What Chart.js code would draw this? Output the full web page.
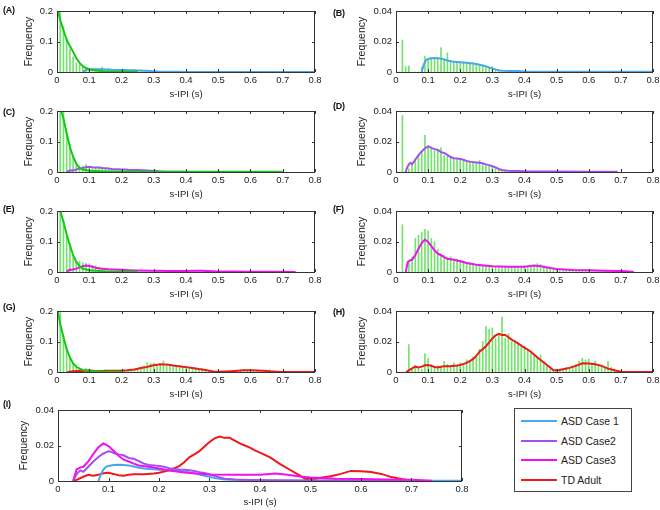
<!DOCTYPE html>
<html>
<head>
<meta charset="utf-8">
<script src="https://cdn.jsdelivr.net/npm/chart.js@4.4.0/dist/chart.umd.min.js"></script>
<style>
  body { margin: 0; width: 660px; height: 510px; overflow: hidden; background: #fff; position: relative;
         font-family: "Liberation Sans", Arial, sans-serif; color: #222; }
  canvas { position: absolute; }
  .tag { position: absolute; font: bold 9px "Liberation Sans", Arial, sans-serif; color: #111; letter-spacing: -0.3px; }
  #legend { position: absolute; left: 514px; top: 408px; width: 116px; height: 82px; border: 1px solid #444; font-size: 10.5px; }
  #legend .row { position: absolute; left: 0; height: 12px; }
  #legend .sw { position: absolute; left: 6px; top: 5px; width: 36px; height: 2px; }
  #legend .lb { position: absolute; left: 46px; top: 0; white-space: nowrap; line-height: 12px; }
</style>
</head>
<body>
<div id="legend"></div>
<script>
// s-IPI histogram bins (s), 0.01 wide
const bins = Array.from({length: 72}, (_, i) => +((i + 1) * 0.01).toFixed(2));

const xTicks = [0, 0.1, 0.2, 0.3, 0.4, 0.5, 0.6, 0.7, 0.8];
const xTickLabels = ['0', '0.1', '0.2', '0.3', '0.4', '0.5', '0.6', '0.7', '0.8'];
const bigTicks = [0, 0.1, 0.2];
const bigTickLabels = ['0', '0.1', '0.2'];
const smallTicks = [0, 0.02, 0.04];
const smallTickLabels = ['0', '0.02', '0.04'];

const seriesNames = ['ASD Case 1', 'ASD Case2', 'ASD Case3', 'TD Adult'];
const seriesColors = ['#4aa6ee', '#a64ff0', '#f010f0', '#f01818'];

// smoothed s-IPI distributions
const case1X = [0.08, 0.085, 0.09, 0.095, 0.1, 0.11, 0.12, 0.13, 0.14, 0.15, 0.16, 0.17, 0.18, 0.19, 0.2, 0.21, 0.22, 0.23, 0.24, 0.25, 0.26, 0.27, 0.28, 0.29, 0.3, 0.31, 0.32, 0.33, 0.35, 0.38, 0.4, 0.42, 0.45, 0.5, 0.6, 0.7, 0.8];
const case1Y = [0, 0.004, 0.0065, 0.008, 0.0085, 0.009, 0.0092, 0.009, 0.0088, 0.0082, 0.0075, 0.007, 0.0068, 0.0066, 0.0064, 0.0062, 0.006, 0.0058, 0.0056, 0.0053, 0.0048, 0.0043, 0.0037, 0.003, 0.0024, 0.0017, 0.0012, 0.0009, 0.0007, 0.0006, 0.0004, 0.0002, 0.0001, 0.0001, 0.0001, 0.0001, 0.0001];

const case2X = [0.03, 0.035, 0.04, 0.045, 0.05, 0.055, 0.06, 0.07, 0.08, 0.09, 0.1, 0.105, 0.11, 0.12, 0.13, 0.14, 0.15, 0.16, 0.17, 0.18, 0.19, 0.2, 0.21, 0.22, 0.23, 0.24, 0.25, 0.26, 0.27, 0.28, 0.29, 0.3, 0.31, 0.32, 0.33, 0.35, 0.38, 0.42, 0.5, 0.6, 0.69];
const case2Y = [0, 0.003, 0.005, 0.006, 0.0052, 0.0065, 0.008, 0.011, 0.0135, 0.0155, 0.0168, 0.0165, 0.0158, 0.015, 0.0145, 0.013, 0.0125, 0.0112, 0.0098, 0.009, 0.0088, 0.0085, 0.008, 0.0072, 0.0068, 0.0065, 0.0063, 0.006, 0.0057, 0.005, 0.0045, 0.0038, 0.003, 0.002, 0.0013, 0.0008, 0.0006, 0.0004, 0.0003, 0.0002, 0.0001];

const case3X = [0.03, 0.037, 0.045, 0.05, 0.06, 0.07, 0.08, 0.09, 0.1, 0.11, 0.12, 0.13, 0.14, 0.15, 0.16, 0.18, 0.2, 0.22, 0.25, 0.3, 0.35, 0.4, 0.43, 0.45, 0.48, 0.5, 0.55, 0.6, 0.65, 0.7, 0.74];
const case3Y = [0, 0.0066, 0.0077, 0.008, 0.011, 0.0153, 0.019, 0.0212, 0.0197, 0.017, 0.0142, 0.012, 0.011, 0.0098, 0.0087, 0.008, 0.007, 0.0059, 0.0048, 0.0037, 0.0035, 0.0035, 0.0042, 0.0037, 0.0026, 0.002, 0.0013, 0.0011, 0.0009, 0.0007, 0.0002];

const tdX = [0.032, 0.04, 0.05, 0.06, 0.07, 0.08, 0.09, 0.1, 0.11, 0.12, 0.13, 0.14, 0.15, 0.17, 0.19, 0.2, 0.22, 0.24, 0.25, 0.26, 0.27, 0.28, 0.29, 0.3, 0.31, 0.32, 0.33, 0.34, 0.35, 0.36, 0.37, 0.38, 0.39, 0.4, 0.42, 0.44, 0.46, 0.48, 0.49, 0.5, 0.51, 0.52, 0.54, 0.56, 0.58, 0.6, 0.62, 0.64, 0.66, 0.68, 0.7, 0.72, 0.8];
const tdY = [0, 0.0011, 0.0024, 0.0035, 0.003, 0.0035, 0.0044, 0.0046, 0.004, 0.0033, 0.003, 0.0035, 0.0038, 0.0038, 0.0042, 0.0046, 0.006, 0.0084, 0.0106, 0.0133, 0.015, 0.0168, 0.0194, 0.022, 0.024, 0.025, 0.0243, 0.0243, 0.0228, 0.0212, 0.02, 0.0188, 0.0172, 0.016, 0.0133, 0.0095, 0.0062, 0.0029, 0.0011, 0.0011, 0.0013, 0.0018, 0.0027, 0.004, 0.0057, 0.0055, 0.0051, 0.004, 0.0022, 0.0011, 0.0002, 0, 0];

// green fitted curves of the short-interval component (left panels)
const greenAX = [0.003, 0.01, 0.02, 0.03, 0.04, 0.05, 0.06, 0.07, 0.08, 0.09, 0.1, 0.12, 0.15, 0.2, 0.25];
const greenAY = [0.2, 0.17, 0.137, 0.106, 0.085, 0.066, 0.045, 0.03, 0.019, 0.013, 0.009, 0.005, 0.002, 0.001, 0.0005];
const greenCX = [0.013, 0.02, 0.03, 0.04, 0.05, 0.06, 0.07, 0.08, 0.1, 0.15, 0.2, 0.3, 0.5, 0.7];
const greenCY = [0.2, 0.176, 0.126, 0.082, 0.05, 0.027, 0.013, 0.008, 0.004, 0.002, 0.001, 0.0008, 0.0008, 0.0005];
const greenEX = [0.01, 0.02, 0.03, 0.04, 0.05, 0.06, 0.07, 0.08, 0.1, 0.15, 0.2, 0.25];
const greenEY = [0.2, 0.165, 0.123, 0.088, 0.055, 0.033, 0.019, 0.011, 0.0055, 0.002, 0.001, 0.0005];
const greenGX = [0.002, 0.01, 0.02, 0.03, 0.04, 0.05, 0.06, 0.07, 0.08, 0.1, 0.15, 0.2];
const greenGY = [0.2, 0.158, 0.114, 0.075, 0.0475, 0.028, 0.017, 0.011, 0.0066, 0.003, 0.001, 0.0005];

// histogram bars, first bin = 0.01
const barsB = [0, 0.021, 0.0035, 0.004, 0, 0, 0, 0.003, 0.0105, 0.008, 0.0095, 0.009, 0.0095, 0.016, 0.008, 0.0125, 0.0075, 0.007, 0.0065, 0.0065, 0.006, 0.0065, 0.006, 0.006, 0.0055, 0.005, 0.0045, 0.004, 0.003, 0.0035, 0.0015, 0.001, 0.0007, 0.0005, 0.0005, 0.0004, 0.0003, 0.0003, 0.0002, 0.0002, 0.0002, 0.0002];
const barsD = [0, 0.037, 0, 0.002, 0.005, 0.0085, 0.011, 0.013, 0.024, 0.017, 0.0155, 0.014, 0.015, 0.016, 0.011, 0.0105, 0.01, 0.009, 0.0085, 0.008, 0.0075, 0.007, 0.0065, 0.0065, 0.006, 0.0075, 0.005, 0.0045, 0.004, 0.003, 0.0025, 0.0015, 0.001, 0.0008, 0.0006, 0.0003, 0.0003, 0.0003, 0.0003, 0.0003, 0.0003, 0.0003];
const barsF = [0, 0.031, 0, 0.006, 0.01, 0.022, 0.024, 0.026, 0.028, 0.027, 0.022, 0.02, 0.015, 0.012, 0.011, 0.009, 0.01, 0.008, 0.0085, 0.007, 0.007, 0.006, 0.006, 0.005, 0.005, 0.0045, 0.004, 0.004, 0.0035, 0.0035, 0.003, 0.0035, 0.003, 0.003, 0.0035, 0.003, 0.003, 0.0035, 0.003, 0.004, 0.003, 0.004, 0.004, 0.0055, 0.005, 0.004, 0.003, 0.002, 0.0015, 0.0015, 0.001, 0.001, 0.001, 0.001, 0.001, 0.001, 0.001, 0.001, 0.0008, 0.0008, 0.0005, 0.0005, 0.0005, 0.0005, 0.0005, 0.0005, 0.0005, 0.0005, 0.0005, 0.0005];
const barsH = [0, 0, 0, 0.018, 0.002, 0.004, 0.003, 0.002, 0.012, 0.009, 0.005, 0.003, 0.004, 0.003, 0.007, 0.005, 0.004, 0.006, 0.004, 0.006, 0.005, 0.008, 0.007, 0.01, 0.01, 0.015, 0.02, 0.03, 0.028, 0.029, 0.022, 0.025, 0.036, 0.022, 0.025, 0.02, 0.021, 0.019, 0.018, 0.017, 0.015, 0.013, 0.011, 0.01, 0.011, 0.007, 0.004, 0.002, 0.001, 0.001, 0.002, 0.001, 0.003, 0.002, 0.004, 0.005, 0.007, 0.009, 0.008, 0.0085, 0.006, 0.007, 0.005, 0.004, 0.003, 0.007, 0.003, 0.002, 0.001];

// left panels: short-interval bins 0.01..0.08, then the same bars as the right panel
const shortA = [0.2, 0.15, 0.11, 0.075, 0.05, 0.03, 0.025, 0.02];
const shortC = [0.2, 0.2, 0.13, 0.09, 0.05, 0.03, 0.02, 0.02];
const shortE = [0.2, 0.17, 0.12, 0.08, 0.05, 0.035, 0.035, 0.03];
const shortG = [0.2, 0.12, 0.08, 0.05, 0.03, 0.02, 0.01, 0.008];

const curves = [[case1X, case1Y], [case2X, case2Y], [case3X, case3Y], [tdX, tdY]];
const GREEN_LINE = '#14c814';
const GREEN_BAR = '#72e46c';
const TXT = '#222';
const FONT = 'Liberation Sans';

const frame = {
  id: 'frame',
  afterDatasetsDraw(chart) {
    const {ctx, chartArea: a, scales: {x, y}} = chart;
    ctx.save();
    ctx.strokeStyle = '#333';
    ctx.lineWidth = 1;
    ctx.beginPath();
    x.ticks.forEach(t => {
      const px = Math.round(x.getPixelForValue(t.value)) + 0.5;
      ctx.moveTo(px, a.bottom); ctx.lineTo(px, a.bottom - 3);
      ctx.moveTo(px, a.top); ctx.lineTo(px, a.top + 3);
    });
    y.ticks.forEach(t => {
      const py = Math.round(y.getPixelForValue(t.value)) + 0.5;
      ctx.moveTo(a.left, py); ctx.lineTo(a.left + 3, py);
      ctx.moveTo(a.right, py); ctx.lineTo(a.right - 3, py);
    });
    ctx.stroke();
    ctx.strokeRect(Math.round(a.left) + 0.5, Math.round(a.top) + 0.5, Math.round(a.width) - 1, Math.round(a.height));
    ctx.restore();
  }
};

function pts(xs, ys) { return xs.map((v, i) => ({x: v, y: ys[i]})); }

function makePanel(p) {
  const c = document.createElement('canvas');
  c.width = p.w; c.height = p.h;
  c.style.left = p.left + 'px'; c.style.top = p.top + 'px';
  document.body.appendChild(c);

  const tag = document.createElement('div');
  tag.className = 'tag';
  tag.textContent = p.tag;
  tag.style.left = p.tagX + 'px'; tag.style.top = p.tagY + 'px';
  document.body.appendChild(tag);

  const datasets = [];
  p.lines.forEach(l => datasets.push({
    type: 'line', data: pts(l.x, l.y), borderColor: l.color, borderWidth: 2,
    pointRadius: 0, tension: 0, order: l.order
  }));
  if (p.bars) datasets.push({
    type: 'bar', data: pts(bins.slice(0, p.bars.length), p.bars),
    backgroundColor: GREEN_BAR, barThickness: 1, order: 5
  });

  const yT = p.big ? bigTicks : smallTicks;
  const yL = p.big ? bigTickLabels : smallTickLabels;
  new Chart(c, {
    type: 'bar',
    data: {datasets},
    options: {
      responsive: false, animation: false, devicePixelRatio: 1,
      layout: {padding: {top: p.padT, right: p.padR, left: 0, bottom: 0}},
      plugins: {legend: {display: false}, tooltip: {enabled: false}},
      scales: {
        x: {
          type: 'linear', min: 0, max: 0.8, offset: false,
          grid: {display: false, drawTicks: false, offset: false},
          border: {display: false},
          afterBuildTicks: s => { s.ticks = xTicks.map(v => ({value: v})); },
          afterFit: s => { s.height = p.xH; },
          ticks: {padding: 3, color: TXT, font: {size: 9.5, family: FONT}, maxRotation: 0,
                  callback: (v, i) => xTickLabels[i]},
          title: {display: true, text: 's-IPI (s)', color: TXT, padding: 0, font: {size: 9.5, family: FONT}}
        },
        y: {
          min: 0, max: p.big ? 0.2 : 0.04,
          grid: {display: false, drawTicks: false},
          border: {display: false},
          afterBuildTicks: s => { s.ticks = yT.map(v => ({value: v})); },
          afterFit: s => { s.width = p.yW; },
          ticks: {padding: 4, color: TXT, font: {size: 9.5, family: FONT}, callback: (v, i) => yL[i]},
          title: {display: true, text: 'Frequency', color: TXT, padding: {top: p.titleX, bottom: 0}, font: {size: 10.5, family: FONT}}
        }
      }
    },
    plugins: [frame]
  });
}

const leftRows = [
  {tag: '(A)', short: shortA, bars: barsB, k: 0, gx: greenAX, gy: greenAY, tagY: 5},
  {tag: '(C)', short: shortC, bars: barsD, k: 1, gx: greenCX, gy: greenCY, tagY: 107},
  {tag: '(E)', short: shortE, bars: barsF, k: 2, gx: greenEX, gy: greenEY, tagY: 204},
  {tag: '(G)', short: shortG, bars: barsH, k: 3, gx: greenGX, gy: greenGY, tagY: 302}
];
const rightTags = [['(B)', 8], ['(D)', 101], ['(F)', 204], ['(H)', 307]];

leftRows.forEach((r, i) => {
  const top = i * 100;
  makePanel({
    tag: r.tag, tagX: 3, tagY: r.tagY, left: 0, top, w: 330, h: 100,
    padT: 11, padR: 15, yW: 57, xH: 28, titleX: 23, big: true,
    bars: r.short.concat(r.bars.slice(8)),
    lines: [
      {x: curves[r.k][0], y: curves[r.k][1], color: seriesColors[r.k], order: 2},
      {x: r.gx, y: r.gy, color: GREEN_LINE, order: 1}
    ]
  });
  makePanel({
    tag: rightTags[i][0], tagX: 333, tagY: rightTags[i][1], left: 330, top, w: 335, h: 100,
    padT: 11, padR: 12, yW: 66, xH: 28, titleX: 26, big: false,
    bars: r.bars,
    lines: [{x: curves[r.k][0], y: curves[r.k][1], color: seriesColors[r.k], order: 1}]
  });
});

// combined panel (I)
makePanel({
  tag: '(I)', tagX: 3, tagY: 399, left: 0, top: 400, w: 480, h: 108,
  padT: 10, padR: 18, yW: 58, xH: 27, titleX: 18, big: false,
  bars: null,
  lines: [3, 0, 1, 2].map((k, j) => ({x: curves[k][0], y: curves[k][1], color: seriesColors[k], order: 4 - j}))
});

// legend box
const lg = document.getElementById('legend');
seriesNames.forEach((name, i) => {
  const row = document.createElement('div');
  row.className = 'row';
  row.style.top = (6 + i * 19.5) + 'px';
  row.innerHTML = '<div class="sw" style="background:' + seriesColors[i] + '"></div><div class="lb">' + name + '</div>';
  lg.appendChild(row);
});
</script>
</body>
</html>
